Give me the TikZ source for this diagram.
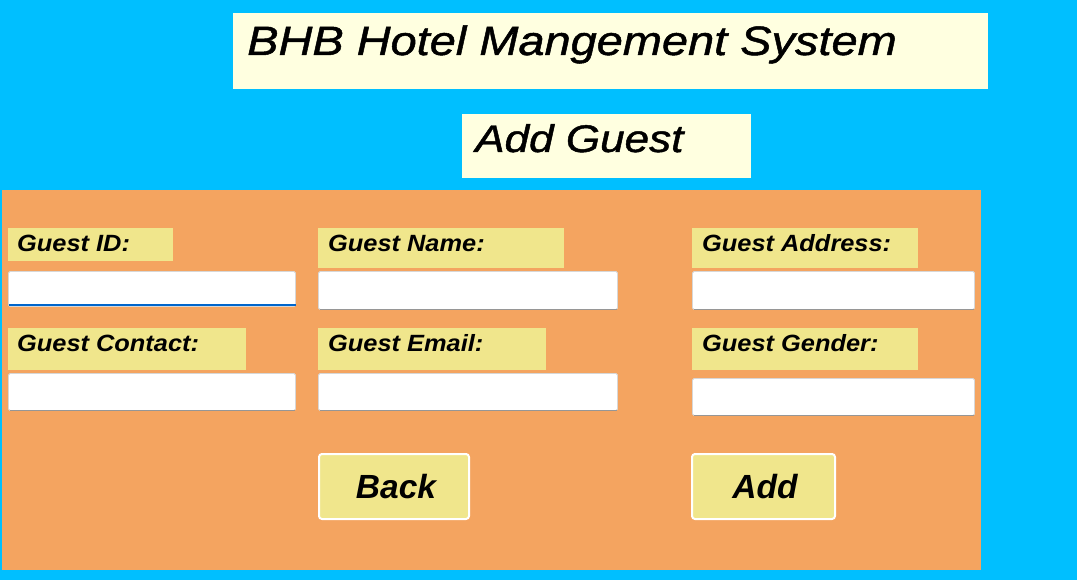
\documentclass[tikz,border=0pt]{standalone}
\usepackage{fontspec}
\newfontfamily\titlef[FakeStretch=1.145,FakeBold=1.2]{Liberation Sans}
\newfontfamily\labf[FakeStretch=1.08]{Liberation Sans}
\newfontfamily\btnf{Liberation Sans}
\definecolor{bgcyan}{RGB}{0,191,255}
\definecolor{panelc}{RGB}{244,164,96}
\definecolor{khakic}{RGB}{240,230,140}
\definecolor{ivoryc}{RGB}{255,255,224}
\definecolor{fldedge}{RGB}{215,215,215}
\definecolor{fldshadow}{RGB}{150,150,150}
\definecolor{focusblue}{RGB}{0,102,204}
\tikzset{
  lbltext/.style={anchor=base west, inner sep=0pt, font=\labf\bfseries\itshape\fontsize{23.5}{23.5}\selectfont},
  lblbox/.style={fill=khakic, draw=none},
  fldbox/.style={fill=white, draw=fldedge, line width=0.8pt, rounded corners=1.5pt},
  btnbox/.style={fill=khakic, draw=white, line width=2pt, rounded corners=3pt},
  btntext/.style={anchor=base, inner sep=0pt, font=\btnf\bfseries\itshape\fontsize{33.5}{33.5}\selectfont}
}
\begin{document}
\begin{tikzpicture}[x=1pt,y=-1pt]
\fill[bgcyan] (0,0) rectangle (1077,580);
\useasboundingbox (0,0) rectangle (1077,580);
% title boxes
\fill[ivoryc] (233,13) rectangle (988,89);
\node[anchor=base west, inner sep=0pt, font=\titlef\itshape\fontsize{41}{41}\selectfont] (title) at (247,55) {BHB Hotel Mangement System};
\fill[ivoryc] (462,114) rectangle (751,178);
\node[anchor=base west, inner sep=0pt, font=\titlef\itshape\fontsize{38.5}{38.5}\selectfont] (sub) at (475,152) {Add Guest};
% panel
\fill[panelc] (2,190) rectangle (981,570);
% labels row 1
\fill[lblbox] (8,228) rectangle (173,261);
\node[lbltext] (lid) at (17,252) {Guest ID:};
\fill[lblbox] (318,228) rectangle (564,268);
\node[lbltext] (lname) at (328,252) {Guest Name:};
\fill[lblbox] (692,228) rectangle (918,268);
\node[lbltext] (laddr) at (702,252) {Guest Address:};
% fields row 1
\draw[fldbox] (8.5,271.5) rectangle (295.5,306.5);
\draw[focusblue, line width=2pt] (8.5,305.5) -- (295.5,305.5);
\draw[fldbox] (318.5,271.5) rectangle (617.5,309.5);
\draw[fldshadow, line width=1pt] (319.5,309.5) -- (616.5,309.5);
\draw[fldbox] (692.5,271.5) rectangle (974.5,309.5);
\draw[fldshadow, line width=1pt] (693.5,309.5) -- (973.5,309.5);
% labels row 2
\fill[lblbox] (8,328) rectangle (246,370);
\node[lbltext] (lcontact) at (17,352) {Guest Contact:};
\fill[lblbox] (318,328) rectangle (546,370);
\node[lbltext] (lemail) at (328,352) {Guest Email:};
\fill[lblbox] (692,328) rectangle (918,370);
\node[lbltext] (lgender) at (702,352) {Guest Gender:};
% fields row 2
\draw[fldbox] (8.5,373.5) rectangle (295.5,410.5);
\draw[fldshadow, line width=1pt] (9.5,410.5) -- (294.5,410.5);
\draw[fldbox] (318.5,373.5) rectangle (617.5,410.5);
\draw[fldshadow, line width=1pt] (319.5,410.5) -- (616.5,410.5);
\draw[fldbox] (692.5,378.5) rectangle (974.5,415.5);
\draw[fldshadow, line width=1pt] (693.5,415.5) -- (973.5,415.5);
% buttons
\draw[btnbox] (319,454) rectangle (469,519);
\node[btntext] (back) at (396,498) {Back};
\draw[btnbox] (692,454) rectangle (835,519);
\node[btntext] (add) at (765,498) {Add};
\end{tikzpicture}
\end{document}
